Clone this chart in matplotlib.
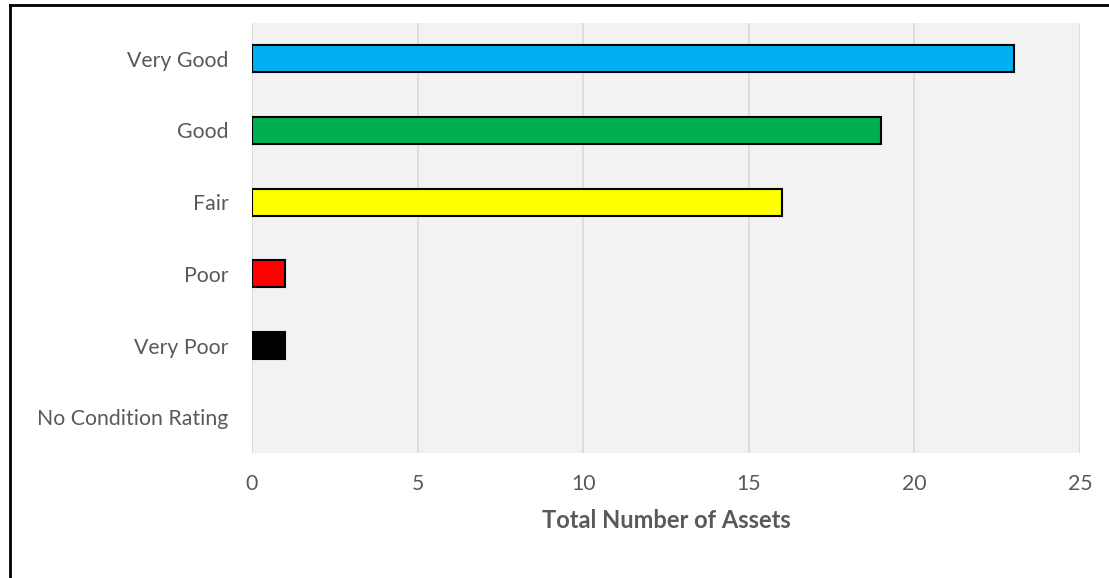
import matplotlib.pyplot as plt
from matplotlib.lines import Line2D

plt.rcParams['font.family'] = ['Lato', 'DejaVu Sans']

# asset condition counts
categories = ['Very Good', 'Good', 'Fair', 'Poor', 'Very Poor', 'No Condition Rating']
counts = [23, 19, 16, 1, 1, 0]
colors = ['#00B0F0', '#00B050', '#FFFF00', '#FF0000', '#000000', '#FFFFFF']
xticks = [0, 5, 10, 15, 20, 25]

W, H = 1109, 578
fig = plt.figure(figsize=(W / 100, H / 100), dpi=100)
ax = fig.add_axes([252 / W, 1 - 453 / H, (1080 - 252) / W, (453 - 23) / H])

ax.set_facecolor('#F2F2F2')
ypos = range(len(categories))
widths = [1.5 if c > 0 else 0 for c in counts]
ax.barh(ypos, counts, height=0.38, color=colors, edgecolor='black', linewidth=widths, zorder=3)

ax.set_ylim(len(categories) - 0.5, -0.5)
ax.set_xlim(0, 25)
ax.set_xticks(xticks)
ax.set_yticks(list(ypos))
ax.set_yticklabels(categories)
ax.grid(axis='x', color='#D9D9D9', linewidth=1.2, zorder=0)
ax.set_axisbelow(True)
for s in ax.spines.values():
    s.set_visible(False)
ax.tick_params(length=0, labelsize=15.3, labelcolor='#595959')
ax.tick_params(axis='x', pad=15)
ax.tick_params(axis='y', pad=17)
ax.set_xlabel('Total Number of Assets', fontsize=17, fontweight='bold', color='#595959', labelpad=11)

# outer frame lines (left and top)
fig.add_artist(Line2D([10 / W, 10 / W], [0, 1 - 5 / H], color='black', linewidth=2, transform=fig.transFigure))
fig.add_artist(Line2D([10 / W, 1], [1 - 5 / H, 1 - 5 / H], color='black', linewidth=2, transform=fig.transFigure))

fig.savefig('out.png', dpi=100)
